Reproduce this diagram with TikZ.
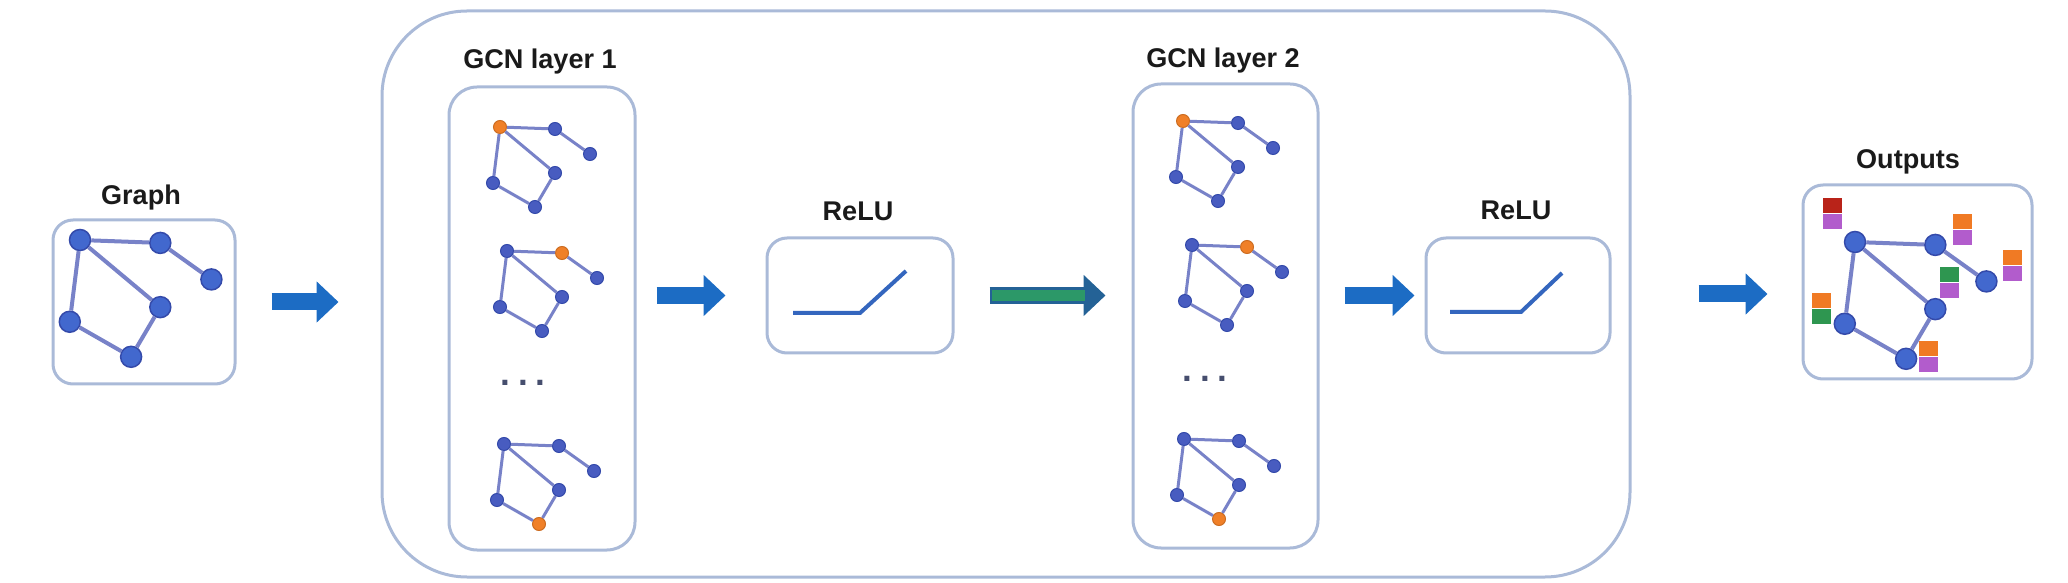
\documentclass[tikz,border=0pt]{standalone}
\usepackage{fontspec}
\setmainfont{Liberation Sans}
\usepackage{tikz}
\usetikzlibrary{arrows.meta,positioning,calc}
\definecolor{boxc}{RGB}{170,186,216}
\definecolor{titlec}{RGB}{26,26,26}
\definecolor{smalldot}{RGB}{72,92,192}
\definecolor{bigdotc}{RGB}{66,104,206}
\definecolor{dotline}{RGB}{52,74,170}
\definecolor{edgec}{RGB}{120,130,200}
\definecolor{hlorange}{RGB}{240,128,40}
\definecolor{arrowblue}{RGB}{28,108,196}
\definecolor{arrowgreen}{RGB}{44,152,104}
\definecolor{arrowteal}{RGB}{36,98,150}
\definecolor{relublue}{RGB}{52,102,190}
\definecolor{dotsc}{RGB}{70,78,110}
\definecolor{sqred}{RGB}{185,35,25}
\definecolor{sqpurple}{RGB}{178,92,204}
\definecolor{sqorange}{RGB}{240,122,36}
\definecolor{sqgreen}{RGB}{46,150,80}
\newlength{\pxu}
\setlength{\pxu}{0.2mm}
\tikzset{
  gbox/.style={draw=boxc, line width=0.6mm, rounded corners=4mm, inner sep=0pt},
  ttl/.style={font=\fontsize{15.4}{18}\selectfont\bfseries, text=titlec, inner sep=0pt},
  gdot/.style={circle, fill=smalldot, draw=dotline, line width=0.2mm, inner sep=0pt, minimum size=2.6mm},
  gedge/.style={edgec, line width=0.6mm},
  bigdot/.style={circle, fill=bigdotc, draw=dotline, line width=0.3mm, inner sep=0pt, minimum size=4.2mm},
  bigedge/.style={edgec, line width=0.8mm},
  hl/.style={fill=hlorange, draw=hlorange!85!black},
  gv a/.style={}, gv b/.style={}, gv c/.style={},
  gv d/.style={}, gv e/.style={}, gv f/.style={},
  flowarr/.style={-{Triangle[length=4.4mm, width=8mm]}, arrowblue, line width=3.4mm},
  relu/.style={relublue, line width=0.8mm},
  dotsl/.style={font=\fontsize{20}{22}\selectfont\bfseries, text=dotsc, inner sep=0pt},
  lsq/.style={minimum width=3.8mm, minimum height=3mm, inner sep=0pt, anchor=north west},
  pics/minigraph/.style={code={
    \node[gdot, gv a] (-a) at (0,0) {};
    \node[gdot, gv b] (-b) at (55,2) {};
    \node[gdot, gv c] (-c) at (90,27) {};
    \node[gdot, gv d] (-d) at (55,46) {};
    \node[gdot, gv e] (-e) at (-7,56) {};
    \node[gdot, gv f] (-f) at (35,80) {};
    \draw[gedge] (-a) -- (-b) -- (-c);
    \draw[gedge] (-a) -- (-d) -- (-f) -- (-e) -- (-a);
  }},
}

\begin{document}
\begin{tikzpicture}[x=\pxu, y=-\pxu]
  \useasboundingbox (0,0) rectangle (2068,583);

  % boxes
  \node[gbox, minimum width=182\pxu, minimum height=164\pxu] (graphbox) at (144,302) {};
  \node[gbox, rounded corners=17mm, minimum width=1248\pxu, minimum height=566\pxu] (stack) at (1006,294) {};
  \node[gbox, rounded corners=5.6mm, minimum width=186\pxu, minimum height=463\pxu] (layer1) at (542,318.5) {};
  \node[gbox, rounded corners=5.6mm, minimum width=185\pxu, minimum height=464\pxu] (layer2) at (1225.5,316) {};
  \node[gbox, minimum width=186\pxu, minimum height=115\pxu] (relu1) at (860,295.5) {};
  \node[gbox, minimum width=184\pxu, minimum height=115\pxu] (relu2) at (1518,295.5) {};
  \node[gbox, minimum width=229\pxu, minimum height=194\pxu] (outbox) at (1917.5,282) {};

  % titles
  \node[ttl] (tgraph) at (141,198) {Graph};
  \node[ttl] (tlayer1) at (540,62) {GCN layer 1};
  \node[ttl] (trelu1) at (858,211) {ReLU};
  \node[ttl] (tlayer2) at (1223,61) {GCN layer 2};
  \node[ttl] (trelu2) at (1516,210) {ReLU};
  \node[ttl] (tout) at (1908,162) {Outputs};

  % input graph
  \pic[scale=1.46, gdot/.style=bigdot, gedge/.style=bigedge] (inp) at (80,240) {minigraph};

  % GCN layer 1
  \pic[gv a/.style=hl] (l1a) at (500,127) {minigraph};
  \pic[gv b/.style=hl] (l1b) at (507,251) {minigraph};
  \node[dotsl] (l1dots) at (523,383) {.\hspace{0.23em}.\hspace{0.23em}.};
  \pic[gv f/.style=hl] (l1c) at (504,444) {minigraph};

  % GCN layer 2
  \pic[gv a/.style=hl] (l2a) at (1183,121) {minigraph};
  \pic[gv b/.style=hl] (l2b) at (1192,245) {minigraph};
  \node[dotsl] (l2dots) at (1205,379) {.\hspace{0.23em}.\hspace{0.23em}.};
  \pic[gv f/.style=hl] (l2c) at (1184,439) {minigraph};

  % relu curves
  \draw[relu] ($(relu1.center)+(-67,17.5)$) -- ++(67,0) -- ++(46,-42);
  \draw[relu] ($(relu2.center)+(-68,16.5)$) -- ++(71,0) -- ++(41,-39);

  % output graph with labels
  \pic[scale=1.46, gdot/.style=bigdot, gedge/.style=bigedge] (outg) at (1855,242) {minigraph};
  \foreach \x/\y/\ct/\cb [count=\i] in {1823/198/sqred/sqpurple, 1953/214/sqorange/sqpurple,
      2003/250/sqorange/sqpurple, 1940/267/sqgreen/sqpurple, 1812/293/sqorange/sqgreen,
      1919/341/sqorange/sqpurple}{
    \node[lsq, fill=\ct] (sq\i t) at (\x,\y) {};
    \node[lsq, fill=\cb, below=0pt of sq\i t] (sq\i b) {};
  }

  % arrows
  \draw[flowarr, shorten <=35\pxu, shorten >=42\pxu] (graphbox.east) -- (graphbox.east -| stack.west);
  \draw[flowarr, shorten <=20\pxu, shorten >=40\pxu] (layer1.east |- relu1.west) -- (relu1.west);
  \draw[flowarr, arrowteal, shorten <=35\pxu, shorten >=26\pxu] (relu1.east) -- (relu1.east -| layer2.west);
  \draw[arrowgreen, line width=2.2mm, shorten <=37\pxu, shorten >=47\pxu] (relu1.east) -- (relu1.east -| layer2.west);
  \draw[flowarr, shorten <=25\pxu, shorten >=10\pxu] (layer2.east |- relu2.west) -- (relu2.west);
  \draw[flowarr, shorten <=67\pxu, shorten >=34\pxu] (stack.east) -- (stack.east -| outbox.west);
\end{tikzpicture}
\end{document}
